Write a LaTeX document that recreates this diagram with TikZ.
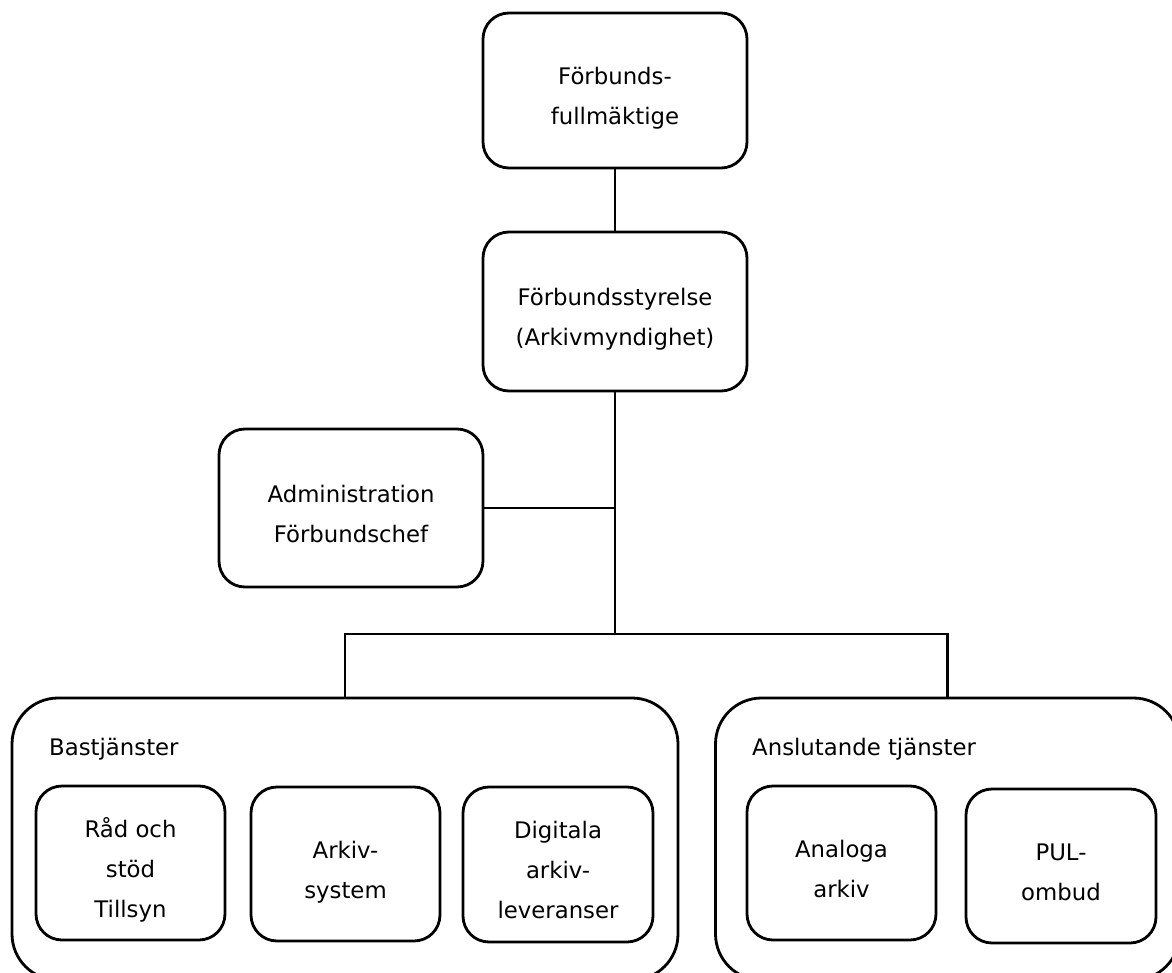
\documentclass[tikz,border=0pt]{standalone}
\usepackage{fontspec}
\setmainfont{DejaVu Sans}
\newcommand\mystrut{\rule[-6pt]{0pt}{40pt}}
\begin{document}
\begin{tikzpicture}[x=1pt,y=-1pt,
  box/.style={draw, line width=2.8pt, rounded corners=26pt, inner sep=0pt,
    align=center, font=\fontsize{22.8}{40}\selectfont},
  group/.style={draw, line width=2.8pt, rounded corners=46pt, inner sep=0pt},
  conn/.style={line width=2.2pt},
  grouplabel/.style={anchor=base west, inner sep=0pt, font=\fontsize{22.8}{40}\selectfont}]
\useasboundingbox (0,0) rectangle (1172,973);
\fill[white] (0,0) rectangle (1172,973);

\node[box, minimum width=264pt, minimum height=155pt] (fum) at (615,90.5)
  {\mystrut Förbunds-\\\mystrut fullmäktige};
\node[box, minimum width=264pt, minimum height=159pt] (sty) at (615,311.5)
  {\mystrut Förbundsstyrelse\\\mystrut (Arkivmyndighet)};
\node[box, minimum width=264pt, minimum height=158pt] (adm) at (351,508)
  {\mystrut Administration\\\mystrut Förbundschef};

\node[group, minimum width=666pt, minimum height=282pt] (bas) at (345,839) {};
\node[group, minimum width=464pt, minimum height=282pt] (ans) at (947.5,839) {};

\node[grouplabel] (basT) at (49,755) {Bastjänster};
\node[grouplabel] (ansT) at (752,755) {Anslutande tjänster};

\node[box, minimum width=189pt, minimum height=154pt] (rad) at (130.5,863)
  {\mystrut Råd och\\\mystrut stöd\\\mystrut Tillsyn};
\node[box, minimum width=189pt, minimum height=154pt] (ark) at (345.5,864)
  {\mystrut Arkiv-\\\mystrut system};
\node[box, minimum width=190pt, minimum height=155pt] (dig) at (558,864.5)
  {\mystrut Digitala\\\mystrut arkiv-\\\mystrut leveranser};
\node[box, minimum width=189pt, minimum height=154pt] (ana) at (841.5,863)
  {\mystrut Analoga\\\mystrut arkiv};
\node[box, minimum width=190pt, minimum height=154pt] (pul) at (1061,866)
  {\mystrut PUL-\\\mystrut ombud};

\coordinate (jn) at (615,634);
\draw[conn] (fum.south) -- (sty.north);
\draw[conn] (sty.south) -- (jn);
\draw[conn] (adm.east) -- (adm.east -| sty.south);
\draw[conn] (bas.north) |- (jn) -| (ans.north);
\end{tikzpicture}
\end{document}
